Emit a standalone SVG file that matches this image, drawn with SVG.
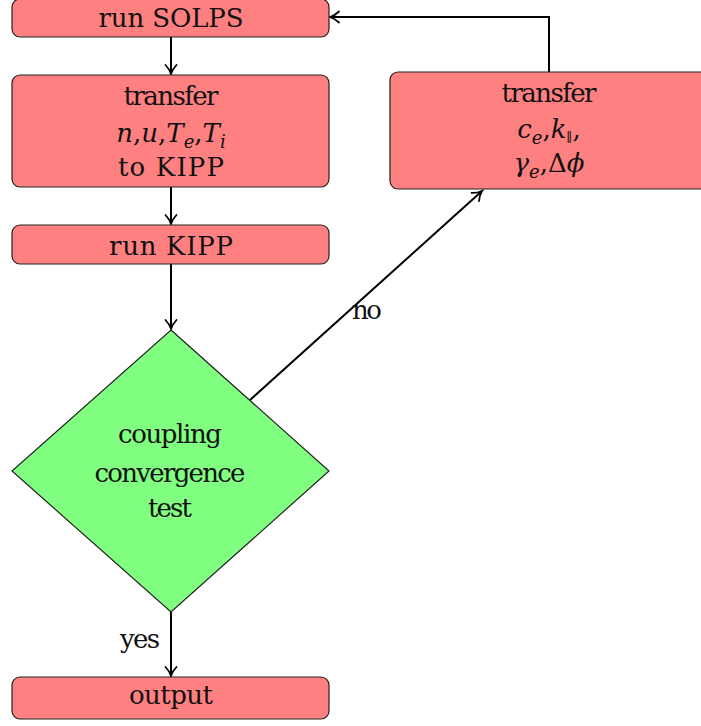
<svg xmlns="http://www.w3.org/2000/svg" width="701" height="726" viewBox="0 0 701 726">
<defs>
<style>
.box{fill:#ff8080;stroke:#222;stroke-width:1.2}
.dia{fill:#80ff80;stroke:#222;stroke-width:1.2}
text{font-family:'DejaVu Serif','Liberation Serif',serif;font-size:26px;fill:#111;text-anchor:middle}
.m{font-style:italic}
.sub{font-size:18px;font-style:italic}
.con{fill:none;stroke:#000;stroke-width:2;marker-end:url(#arr)}
</style>
<marker id="arr" markerUnits="userSpaceOnUse" markerWidth="20" markerHeight="20" viewBox="-12 -10 14 20" refX="0" refY="0" orient="auto">
<path d="M -9,-5.5 C -5.5,-2.2 -2.2,-0.6 0,0 C -2.2,0.6 -5.5,2.2 -9,5.5" fill="none" stroke="#000" stroke-width="1.8" stroke-linecap="round"/>
</marker>
</defs>
<g id="connectors">
<path class="con" d="M171,37 V74"/>
<path class="con" d="M171,187 V224"/>
<path class="con" d="M171,264 V329"/>
<path class="con" d="M171,612 V676"/>
<path class="con" d="M549,72 V17 H330"/>
<path class="con" d="M250,400 L482,191"/>
<text x="367" y="319" textLength="30" lengthAdjust="spacing">no</text>
<text x="140" y="648" textLength="40" lengthAdjust="spacing">yes</text>
</g>
<g id="run-solps">
<rect class="box" x="12" y="-1" width="317" height="38" rx="8"/>
<text x="171" y="27" textLength="145" lengthAdjust="spacing">run SOLPS</text>
</g>
<g id="transfer-to-kipp">
<rect class="box" x="12" y="75" width="317" height="112" rx="8"/>
<text x="171" y="105" textLength="95" lengthAdjust="spacing">transfer</text>
<text x="171" y="142"><tspan class="m">n</tspan>,<tspan class="m">u</tspan>,<tspan class="m">T</tspan><tspan class="sub" dy="6">e</tspan><tspan dy="-6">,</tspan><tspan class="m">T</tspan><tspan class="sub" dy="6">i</tspan></text>
<text x="171" y="176" textLength="106" lengthAdjust="spacing">to KIPP</text>
</g>
<g id="run-kipp">
<rect class="box" x="12" y="225" width="317" height="39" rx="8"/>
<text x="171" y="255" textLength="124" lengthAdjust="spacing">run KIPP</text>
</g>
<g id="convergence-test">
<polygon class="dia" points="171,330 329,471 171,612 12,471"/>
<text x="170" y="443" textLength="104" lengthAdjust="spacing">coupling</text>
<text x="170" y="482" textLength="151" lengthAdjust="spacing">convergence</text>
<text x="170" y="517" textLength="44" lengthAdjust="spacing">test</text>
</g>
<g id="transfer-to-solps">
<rect class="box" x="390" y="72" width="320" height="117" rx="8"/>
<text x="549" y="102" textLength="95" lengthAdjust="spacing">transfer</text>
<text x="549" y="138"><tspan class="m">c</tspan><tspan class="sub" dy="6">e</tspan><tspan dy="-6">,</tspan><tspan class="m">k</tspan><tspan style="font-size:13px" dy="4">∥</tspan><tspan dy="-4">,</tspan></text>
<text x="549" y="172"><tspan class="m">γ</tspan><tspan class="sub" dy="6">e</tspan><tspan dy="-6">,Δ</tspan><tspan class="m">ϕ</tspan></text>
</g>
<g id="output">
<rect class="box" x="12" y="677" width="317" height="42" rx="8"/>
<text x="171" y="704" textLength="84" lengthAdjust="spacing">output</text>
</g>
</svg>
